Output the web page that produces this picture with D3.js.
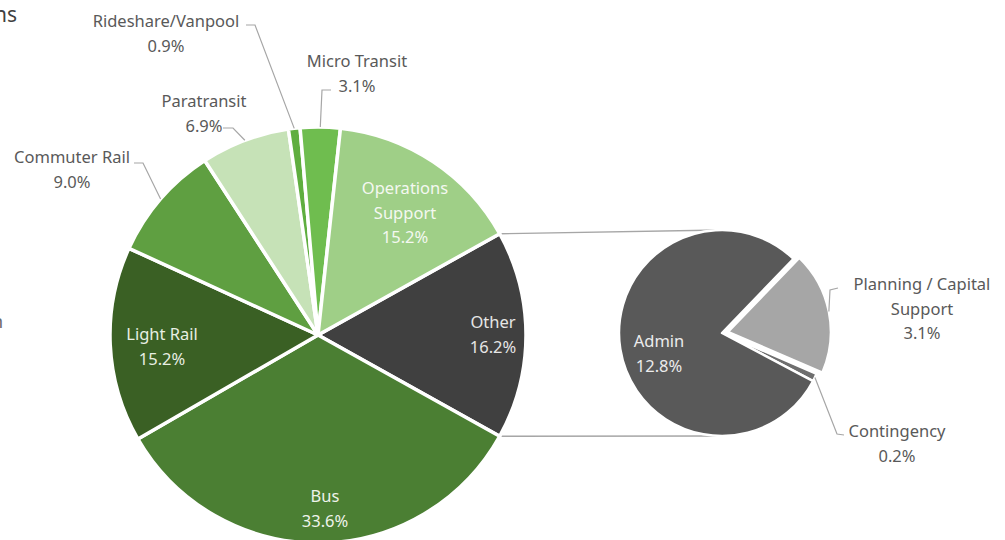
<!DOCTYPE html>
<html>
<head>
<meta charset="utf-8">
<script src="https://cdn.jsdelivr.net/npm/d3@7"></script>
<style>
  body { margin: 0; background: #fff; }
  svg text { font-family: "Noto Sans", "Open Sans", sans-serif; }
</style>
</head>
<body>
<div id="chart"></div>
<script>
// main pie, clockwise from the "Other" slice
var mainNames = ["Other", "Bus", "Light Rail", "Commuter Rail", "Paratransit", "Rideshare/Vanpool", "Micro Transit", "Operations Support"];
var mainValues = [16.2, 33.6, 15.2, 9.0, 6.9, 0.9, 3.1, 15.2];
var mainColors = ["#404040", "#4b7f33", "#3a6024", "#5f9f41", "#c6e2b7", "#5fae3f", "#6fbd4f", "#9fcf87"];

// breakdown of "Other"
var subNames = ["Planning / Capital Support", "Contingency", "Admin"];
var subValues = [3.1, 0.2, 12.8];
var subColors = ["#a6a6a6", "#6e6e6e", "#595959"];

var width = 1005, height = 540;
var cx = 318, cy = 335, R = 208;
var sx = 722, sy = 333, r2 = 103;

var svg = d3.select("#chart").append("svg")
    .attr("width", width)
    .attr("height", height);

var total = d3.sum(mainValues);
var a0 = Math.PI / 2 - mainValues[0] / total * Math.PI;

var pie = d3.pie().sort(null).value(function (d) { return d; })
    .startAngle(a0).endAngle(a0 + 2 * Math.PI);
var arcs = pie(mainValues);

var arc = d3.arc().innerRadius(0).outerRadius(R);

function pt(c, rad, ang) {
    return [c[0] + rad * Math.sin(ang), c[1] - rad * Math.cos(ang)];
}

// connector lines between the pies
var other = arcs[0];
var lineData = [
    [pt([cx, cy], R, other.startAngle), [sx, sy - r2]],
    [pt([cx, cy], R, other.endAngle), [sx, sy + r2]]
];
svg.selectAll(".conn").data(lineData).enter().append("line")
    .attr("class", "conn")
    .attr("x1", function (d) { return d[0][0]; })
    .attr("y1", function (d) { return d[0][1]; })
    .attr("x2", function (d) { return d[1][0]; })
    .attr("y2", function (d) { return d[1][1]; })
    .attr("stroke", "#a6a6a6")
    .attr("stroke-width", 1.3);

var main = svg.append("g").attr("transform", "translate(" + cx + "," + cy + ")");
main.selectAll("path").data(arcs).enter().append("path")
    .attr("d", arc)
    .attr("fill", function (d, i) { return mainColors[i]; })
    .attr("stroke", "#fff")
    .attr("stroke-width", 3.5)
    .attr("stroke-linejoin", "round");

// secondary pie
var subStart = 44 * Math.PI / 180;
var subPie = d3.pie().sort(null).value(function (d) { return d; })
    .startAngle(subStart).endAngle(subStart + 2 * Math.PI);
var subArcs = subPie(subValues);
var arc2 = d3.arc().innerRadius(0).outerRadius(r2);
var explode = [6, 0, 0];

var sub = svg.append("g").attr("transform", "translate(" + sx + "," + sy + ")");
sub.selectAll("path").data(subArcs).enter().append("path")
    .attr("d", arc2)
    .attr("transform", function (d, i) {
        var m = (d.startAngle + d.endAngle) / 2;
        return "translate(" + explode[i] * Math.sin(m) + "," + (-explode[i] * Math.cos(m)) + ")";
    })
    .attr("fill", function (d, i) { return subColors[i]; })
    .attr("stroke", "#fff")
    .attr("stroke-width", 2.5)
    .attr("stroke-linejoin", "round");

function pct(v) { return v.toFixed(1) + "%"; }

// label placement: [x, y of first baseline, lines, colour]
var mainLabelPos = {
    "Other": [493, 328, ["Other"], "#e6e6e6"],
    "Bus": [325, 502, ["Bus"], "#eef3ea"],
    "Light Rail": [162, 340, ["Light Rail"], "#e8efe3"],
    "Commuter Rail": [72, 163, ["Commuter Rail"], "#595959"],
    "Paratransit": [204, 107, ["Paratransit"], "#595959"],
    "Rideshare/Vanpool": [166, 27, ["Rideshare/Vanpool"], "#595959"],
    "Micro Transit": [357, 67, ["Micro Transit"], "#595959"],
    "Operations Support": [405, 194, ["Operations", "Support"], "#f4f8f1"]
};

var fs = 16.5, lh = 24.5;
mainNames.forEach(function (name, i) {
    var p = mainLabelPos[name];
    var lines = p[2].concat([pct(mainValues[i])]);
    var t = svg.append("text")
        .attr("text-anchor", "middle")
        .attr("font-size", fs)
        .attr("fill", p[3]);
    lines.forEach(function (s, k) {
        t.append("tspan").attr("x", p[0]).attr("y", p[1] + k * lh).text(s);
    });
});

var subLabelPos = {
    "Planning / Capital Support": [922, 290, ["Planning / Capital", "Support"], "#595959"],
    "Contingency": [897, 437, ["Contingency"], "#595959"],
    "Admin": [659, 347, ["Admin"], "#ececec"]
};
subNames.forEach(function (name, i) {
    var p = subLabelPos[name];
    var lines = p[2].concat([pct(subValues[i])]);
    var t = svg.append("text")
        .attr("text-anchor", "middle")
        .attr("font-size", fs)
        .attr("fill", p[3]);
    lines.forEach(function (s, k) {
        t.append("tspan").attr("x", p[0]).attr("y", p[1] + k * lh).text(s);
    });
});

// leader lines: slice edge -> bend -> label end
function midPoint(c, rad, d) {
    var m = (d.startAngle + d.endAngle) / 2;
    return [c[0] + rad * Math.sin(m), c[1] - rad * Math.cos(m)];
}
var pm = (subArcs[0].startAngle + subArcs[0].endAngle) / 2;
var leaders = [
    [midPoint([cx, cy], R, arcs[5]), [255, 25], [246, 25]],
    [midPoint([cx, cy], R, arcs[6]), [322, 90], [331, 90]],
    [midPoint([cx, cy], R, arcs[4]), [233, 128], [223, 128]],
    [midPoint([cx, cy], R, arcs[3]), [143, 163], [134, 163]],
    [midPoint([sx + 6 * Math.sin(pm), sy - 6 * Math.cos(pm)], r2, subArcs[0]), [830, 290], [838, 288]],
    [midPoint([sx, sy], r2, subArcs[1]), [837, 434], [844, 435]]
];
var line = d3.line();
svg.selectAll(".leader").data(leaders).enter().append("path")
    .attr("class", "leader")
    .attr("d", line)
    .attr("fill", "none")
    .attr("stroke", "#a6a6a6")
    .attr("stroke-width", 1.2);

// clipped text bits at the left edge (cut off in the source image too)
svg.append("text")
    .attr("x", 17).attr("y", 22)
    .attr("text-anchor", "end")
    .attr("font-size", 21)
    .attr("fill", "#404040")
    .text("ns");
svg.append("text")
    .attr("x", 3).attr("y", 328)
    .attr("text-anchor", "end")
    .attr("font-size", 18)
    .attr("fill", "#6a6a6a")
    .text("n");
</script>
</body>
</html>
